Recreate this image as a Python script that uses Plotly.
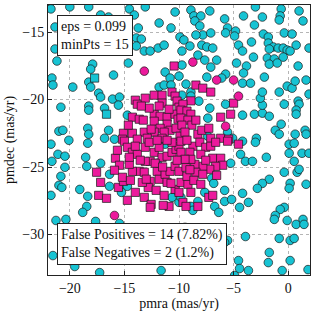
import plotly.graph_objects as go

# ---- data (proper motions, mas/yr) ----
# non-members, correctly rejected (cyan circles)
bg_pmra = [
 -21.73,-20,-18.27,-17.18,-16.45,-14.55,-14.09,-13.09,-13.73,-21.36,-21.36,-21.18,-21.64,-21.55,-20.82,-19.73,-18.27,-18.09,-17.91,-18.09,
 -17.36,-17.18,-16,-18.27,-18.27,-16.82,-16.09,-15.45,-15.55,-14.64,-14.73,-13.91,-13.45,-13.91,-13.18,-12.64,-11.91,-11.36,-11.82,-10.36,
 -10.73,-9.91,-9.55,-11.27,-10.82,-10,-11.82,-11.36,-10.73,-21,-20.64,-18.36,-18.27,-16.45,-16.82,-15.91,-20.09,-21.73,-18.36,-21.09,
 -20.45,-21.64,-18.55,-18.45,-17.18,-20.45,-16.36,-20.82,-21,-20.73,-19.09,-18.36,-18.45,-16.36,-15.09,-14.73,-15.27,-12,-11.27,-10.64,
 -10,-21.73,-18.82,-21.27,-20.36,-17.64,-15.45,-21.55,-19.55,-17.27,-11.64,
 -8.91,-8.64,-8,-7.18,-8.55,-8.09,-7.82,-8.45,-7.09,-9,-9.73,-7.91,-7.45,-6.91,-8.27,-7.64,-6.55,-7.09,-9.73,-5.82,
 -5.55,-5.73,-4.82,-4.91,-4.09,-3.09,-2.36,-3,-0.64,-0.73,-0.82,1,1.36,-2.27,-1.82,-0.36,0.36,-4.55,-4.18,-3.36,
 -1.82,-1.36,-1.73,-0.91,-0.45,-0.09,0.18,0.73,1.91,-3.18,-1.91,-1.27,-1.73,-1,-0.45,0.91,-4.73,-3.82,-5.73,-4.09,
 -9.36,-7.45,-6.09,-4.18,-3.45,-2.18,-8.91,-8.91,-9.73,-8.18,-5.73,-7.18,-7.36,-4.18,-3.09,-2.36,-1.73,-2.36,-2.55,-2.36,
 -0.82,-0.09,0.36,0.64,1.64,1.91,-0.36,0.91,1,0.73,0.73,-0.64,-1.18,-0.82,0.64,1.55,1.64,-5.55,-5.09,-2.91,-7.36,
 -4.18,-3,-4.36,-3.91,-3.27,-2,0.09,0.55,0.09,1.27,1.91,0.55,-0.36,0.82,1,-1.73,-2.36,-2.82,0.18,0.09,
 1.64,-5.27,-7,-6.82,-5.82,-7.64,-5.82,-5.18,-3.64,-4.45,-6.73,-8.27,-9.82,-8.91,-0.36,-4.18,-6.36,
 -8.73,-9.45,-0.73,-1.18,-1.27,-0.09,0.73,1.36,1.45,-5.55,-5.82,-6.18,-3.91,-0.82,0.18,0.55,-1.73,-1.82,0.18,-4.55,
 -4.45,-3.64,-4.91,-0.55,1.82]
bg_pmdec = [
 -13.29,-13.14,-13.14,-13.74,-13.89,-13.29,-13.74,-13.14,-14.7,-14.63,-16.26,-17.15,-18.41,-18.93,-20.57,-19.08,-18.71,-19.08,-17.38,-17.75,
 -19.53,-19.82,-18.19,-20.49,-20.79,-20.64,-19.97,-19.82,-20.42,-17.3,-21.16,-15.44,-15.52,-16.04,-16.41,-16.41,-16.19,-15.97,-14.33,-13.52,
 -14.7,-15.37,-15.59,-17.97,-18.41,-18.27,-19.08,-18.93,-18.93,-22.35,-22.28,-22.13,-22.57,-22.28,-22.87,-22.94,-23.02,-23.31,-23.24,-24.06,
 -24.2,-24.58,-24.28,-24.95,-24.72,-25.02,-25.54,-25.69,-26.36,-26.51,-26.66,-27.17,-27.92,-26.43,-26.43,-26.43,-26.88,-24.72,-23.31,-27.25,
 -27.62,-27.1,-28.36,-28.96,-28.88,-29.03,-29.18,-31.56,-32.37,-32.82,-32.67,
 -13.37,-13.81,-13.81,-13.44,-14.18,-14.55,-15.22,-15.22,-15.07,-16.04,-16.41,-15.97,-16.11,-16.19,-16.71,-17.08,-17.08,-17.6,-17.45,-14.03,
 -14.7,-15.07,-14.93,-15.3,-13.81,-14.48,-13.89,-13.14,-13.29,-13.81,-14.11,-13.44,-14.18,-15.15,-15.37,-15.07,-15.15,-15.97,-16.41,-15.74,
 -15.82,-16.11,-16.26,-16.19,-16.19,-16.34,-16.41,-15.97,-16.19,-16.86,-16.93,-17,-17.38,-17.3,-16.86,-17.52,-17.3,-17.52,-18.12,-18.04,
 -18.86,-18.34,-18.41,-18.79,-18.79,-18.34,-19.45,-19.75,-19.68,-20.12,-20.35,-20.64,-21.38,-21.16,-21.09,-21.01,-21.24,-20.42,-19.9,-19.45,
 -19.45,-19.01,-19.16,-18.64,-18.56,-19.6,-20.35,-20.12,-20.35,-20.79,-21.09,-21.83,-22.28,-22.57,-22.57,-22.28,-22.57,-22.42,-22.87,-22.87,-22.72,
 -23.09,-23.17,-24.06,-24.58,-24.58,-24.28,-23.31,-23.24,-23.98,-23.98,-23.98,-24.58,-25.39,-25.39,-25.17,-25.91,-26.21,-26.58,-26.21,-26.58,
 -26.28,-24.72,-25.84,-26.21,-26.73,-26.88,-27.55,-27.4,-27.62,-27.99,-27.92,-27.55,-27.25,-27.92,-27.99,-26.95,-28.36,
 -28.21,-29.47,-28.14,-28.59,-28.88,-28.96,-29.25,-28.88,-29.25,-30.44,-30.59,-31.04,-30.15,-30.29,-30.44,-30.29,-31.33,-32.08,-31.93,-31.93,
 -32.52,-32.67,-33.04,-32.67,-32.6]

# true members recovered (magenta squares)
tp_pmra = [
 -10.45,-14,-13.82,-13.09,-12.27,-11.55,-10.64,-10.36,-11.55,-10.18,-10,-12.27,-11.73,-11.09,-11.09,-10.36,-10.09,-12.27,-11.73,-10.82,
 -10.27,-14.27,-13.64,-15.09,-14.27,-13.18,-12.27,-11.36,-12.91,-11.55,-13.82,-15.18,-9.91,
 -8.45,-7.82,-7.09,-8.91,-9.64,-9.82,-9.27,-8.91,-9.82,-9.18,-8.82,-9.73,-9.45,-8.27,-7.91,-7.27,-7.09,-6.18,-5.45,-5,
 -5.27,-6.18,
 -15,-14.73,-14.27,-13.82,-14,-13.09,-12.73,-12.27,-11.82,-11.55,-11.09,-10.64,-10.27,-10,-10.64,-12.64,-13.09,-13.64,-14.27,-14.55,
 -15.82,-14.55,-13.18,-12,-11.82,-11.27,-10.82,-10.36,-10,-11.09,-10.36,-10,-12.64,-17.55,-17.18,-15.55,-15.09,-14,-13.18,-12.55,
 -17.36,-16.64,-15.45,-15.18,
 -9.82,-8.73,-8.09,-7.55,-7.09,-6.64,-5.55,-4.55,-9.82,-9,-8,-6.91,-6.18,-6,-6.64,-7.18,-7.82,-8.55,-9.36,-8.45,
 -7.82,-9.82,-9.18,-7.27,-9.64,-9.36,-8.91,-9.45,-10.91,-8.27,-6.91,-12.64,
 -13.55,-12.18,-12.82,-12.09,-11.36,-10.73,-9.27,-8.64,-8,-14.45,-15.91,-14.73,-11.45,-13.36,-8.91,-12,-9.27,-13.27,-12.73,-11.09,
 -14.64,-11.82,-10.91,-8.45,-15.64,-13.45,-9,-10.18,-7.55,-6.55,-12.55,-13.0,-11.5]
tp_pmdec = [
 -17.52,-20.05,-20.35,-19.9,-19.68,-19.68,-19.45,-19.75,-20.27,-20.12,-20.57,-21.09,-21.24,-21.31,-21.83,-21.09,-21.46,-21.61,-22.13,-22.28,
 -22.13,-21.31,-21.46,-22.5,-22.5,-22.42,-22.42,-22.42,-22.87,-22.87,-22.94,-22.94,-22.72,
 -18.93,-19.16,-19.45,-20.1,-20.35,-20.79,-20.86,-21.09,-21.38,-21.53,-21.9,-21.9,-22.42,-22.57,-22.28,-22.13,-22.87,-22.87,-22.94,-20.27,
 -21.09,-21.31,
 -23.09,-23.54,-23.91,-24.06,-23.46,-23.54,-23.17,-23.91,-23.54,-24.28,-24.2,-23.91,-23.69,-23.46,-23.17,-24.58,-24.58,-25.32,-25.32,-24.8,
 -24.35,-24.28,-25.39,-25.32,-25.91,-25.54,-25.32,-24.95,-25.32,-26.14,-26.66,-26.88,-26.06,-25.39,-26.14,-26.51,-26.06,-26.88,-27.25,-27.77,
 -27.1,-27.32,-24.87,-25.76,
 -23.09,-23.46,-23.17,-23.54,-23.46,-23.17,-23.09,-23.31,-23.91,-23.91,-24.06,-24.35,-24.35,-24.87,-24.95,-25.17,-24.95,-24.8,-25.02,-25.39,
 -25.54,-26.14,-26.28,-27.25,-27.62,-27.92,-24.43,-24.43,-27.92,-27.92,-27.1,-27.99,
 -24.5,-24.72,-26.51,-26.73,-27.1,-26.21,-25.69,-25.99,-26.28,-25.99,-25.24,-27.47,-27.84,-26.14,-26.88,-23.02,-23.02,-21.53,-20.64,-23.02,
 -21.9,-20.49,-20.72,-21.53,-23.76,-20.49,-25.2,-24.5,-24.5,-25.62,-22.2,-25.9,-25.0]

# false positives (magenta circles)
fp_pmra = [-13.18, -8.73, -6.55, -5.0, -4.55, -5.73, -15.91, -9.09]
fp_pmdec = [-17.9, -17.23, -18.56, -18.56, -19.75, -21.98, -28.59, -29.55]

# false negatives (cyan squares)
fn_pmra = [-17.73, -16.64]
fn_pmdec = [-18.41, -21.09]

x_ticks = [-20, -15, -10, -5, 0]
y_ticks = [-15, -20, -25, -30]

CYAN = "#17c3d3"
MAG = "#ec1a9c"
EDGE = "#1a1a1a"
FONT = "Liberation Serif"

fig = go.Figure()
fig.add_trace(go.Scatter(x=bg_pmra, y=bg_pmdec, mode="markers",
    marker=dict(symbol="circle", size=8.6, color=CYAN, line=dict(color=EDGE, width=0.7))))
fig.add_trace(go.Scatter(x=fn_pmra, y=fn_pmdec, mode="markers",
    marker=dict(symbol="square", size=8.2, color=CYAN, line=dict(color=EDGE, width=0.7))))
fig.add_trace(go.Scatter(x=tp_pmra, y=tp_pmdec, mode="markers",
    marker=dict(symbol="square", size=8.2, color=MAG, line=dict(color=EDGE, width=0.7))))
fig.add_trace(go.Scatter(x=fp_pmra, y=fp_pmdec, mode="markers",
    marker=dict(symbol="circle", size=8.6, color=MAG, line=dict(color=EDGE, width=0.7))))

axis_common = dict(
    showline=True, mirror=True, linecolor="#222", linewidth=1,
    showgrid=True, gridcolor="#b5b5b5", griddash="dot", gridwidth=1,
    zeroline=False, ticks="inside", ticklen=4, tickcolor="#222",
    tickfont=dict(family=FONT, size=14, color="#111"),
)

fig.update_xaxes(range=[-22, 2], tickvals=x_ticks,
                 ticktext=[f"\u2212{abs(v)}" if v < 0 else str(v) for v in x_ticks],
                 title=dict(text="pmra (mas/yr)", font=dict(family=FONT, size=14, color="#111"), standoff=0),
                 **axis_common)
fig.update_yaxes(range=[-33, -13], tickvals=y_ticks,
                 ticktext=[f"\u2212{abs(v)}" for v in y_ticks],
                 title=dict(text="pmdec (mas/yr)", font=dict(family=FONT, size=14, color="#111"), standoff=4),
                 **axis_common)

box = dict(xref="paper", yref="paper", showarrow=False, align="left",
           bgcolor="white", bordercolor="#222", borderwidth=1, borderpad=3,
           font=dict(family=FONT, size=14, color="#111"))
fig.add_annotation(x=0.034, y=0.963, xanchor="left", yanchor="top",
                   text="eps = 0.099<br>minPts = 15", **box)
fig.add_annotation(x=0.034, y=0.037, xanchor="left", yanchor="bottom",
                   text="False Positives = 14 (7.82%)<br>False Negatives = 2 (1.2%)", **box)

fig.update_layout(width=315, height=313, margin=dict(l=48, r=5, t=5, b=38),
                  paper_bgcolor="white", plot_bgcolor="white",
                  showlegend=False, hovermode=False)

fig.write_html("out.html", config={"displayModeBar": False},
               post_script="document.body.style.margin='0';document.body.style.overflow='hidden';")
